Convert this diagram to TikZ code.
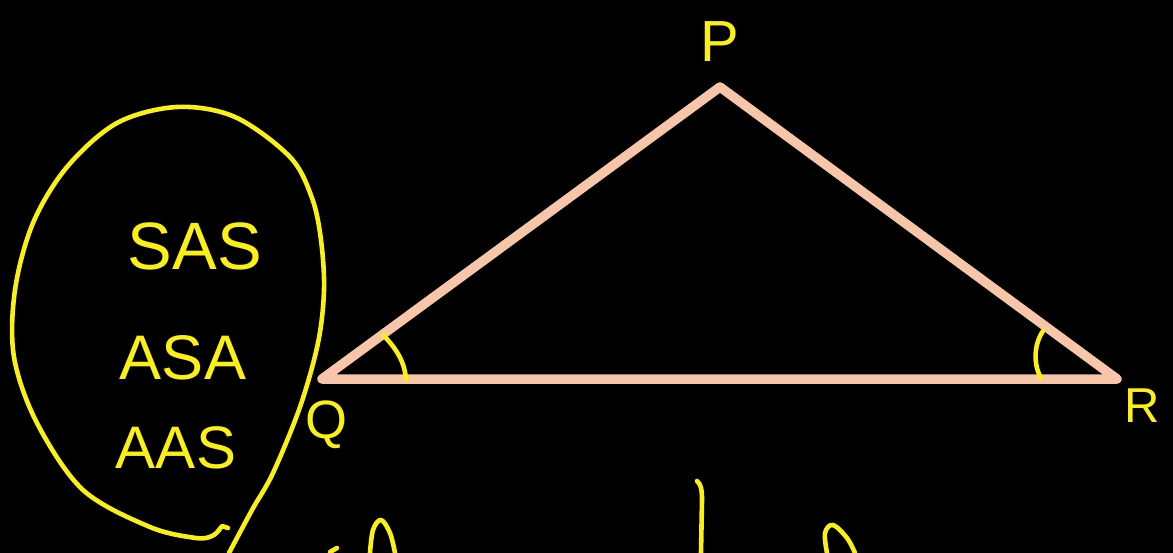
\documentclass[tikz,border=0pt]{standalone}
\usepackage{fontspec}
\setmainfont{Liberation Sans}
\definecolor{hand}{RGB}{250,240,20}
\definecolor{peach}{RGB}{247,198,168}
\tikzset{
  pen/.style={draw=hand, line width=4.6pt, line cap=round, line join=round},
  side/.style={draw=peach, line width=9.5pt, line cap=round, line join=round},
  lbl/.style={text=hand, inner sep=0pt, anchor=base},
}
\begin{document}
\begin{tikzpicture}[x=1pt,y=-1pt]
\fill[black] (0,0) rectangle (1173,553);
\useasboundingbox (0,0) rectangle (1173,553);
% vertices
\coordinate (P) at (720,87);
\coordinate (Q) at (322,379);
\coordinate (R) at (1117,379);
\draw[side] (P) -- (Q) -- (R) -- cycle;
% angle marks
\coordinate (qa1) at (383,335);
\coordinate (qa2) at (406,380);
\draw[pen] (qa1) .. controls (396,348) and (405,362) .. (qa2);
\coordinate (ra1) at (1043,331);
\coordinate (ra2) at (1041,378);
\draw[pen] (ra1) .. controls (1034,344) and (1033,364) .. (ra2);
% vertex labels
\node[lbl, font=\fontsize{58}{58}\selectfont] (lp) at (720,62) {P};
\node[lbl, font=\fontsize{54}{54}\selectfont] (lq) at (326,438) {Q};
\node[lbl, font=\fontsize{49}{49}\selectfont] (lr) at (1142,422) {R};
% criteria list
\node[lbl, font=\fontsize{67}{67}\selectfont] (sas) at (195,270) {SAS};
\node[lbl, font=\fontsize{63}{63}\selectfont] (asa) at (183,380) {ASA};
\node[lbl, font=\fontsize{60}{60}\selectfont] (aas) at (176,468) {AAS};
% loop around the list
\draw[pen] plot[smooth, tension=0.55] coordinates {
  (229,553) (252,510) (273,473) (300,407) (318,343) (324,290) (321,240)
  (312,198) (290,157) (235,117) (177,107) (117,123) (67,167) (33,223)
  (15,290) (14,357) (37,423) (83,490) (150,527) (196,538) (212,536) (219,530)};
\draw[pen] (219,530) -- (222,526) -- (228,528);
% partial strokes at the bottom
\draw[pen] plot[smooth, tension=0.6] coordinates {(370,553) (373,530) (381,520) (390,533) (395,553)};
\draw[pen] (330,552) -- (337,548);
\draw[pen] (697,481) .. controls (701,484) and (702,490) .. (702,500) -- (701,553);
\draw[pen] plot[smooth, tension=0.6] coordinates {(827,553) (825,533) (833,525) (847,538) (855,553)};
\end{tikzpicture}
\end{document}
